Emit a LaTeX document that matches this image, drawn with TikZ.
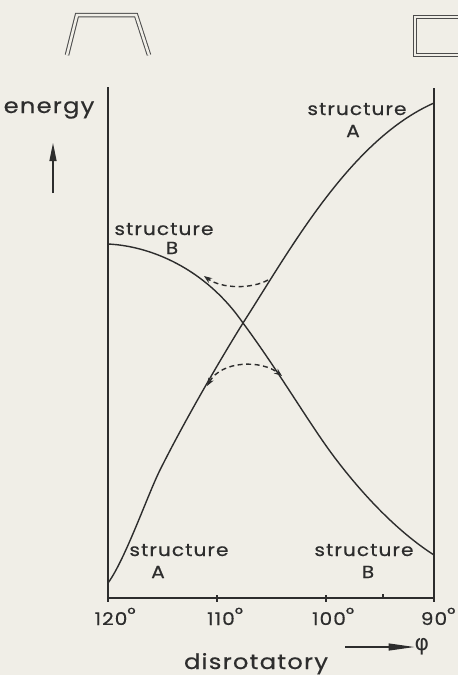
\documentclass[tikz,border=0pt]{standalone}
\usepackage{fontspec}
\newfontfamily\letterfont{Poppins}[FakeStretch=1.15, LetterSpace=6, FakeBold=0.5]
\newfontfamily\greekfont{DejaVu Sans}
\usetikzlibrary{arrows.meta}

\definecolor{paper}{RGB}{240,238,231}
\definecolor{ink}{RGB}{45,45,45}

\tikzset{
  lbl/.style={font=\letterfont\fontsize{17.5}{17.5}\selectfont, text=ink, inner sep=0pt, anchor=base},
  biglbl/.style={lbl, font=\letterfont\fontsize{21}{21}\selectfont},
  frame/.style={ink, line width=1.3pt},
  curve/.style={ink, line width=1.4pt},
  hop/.style={ink, line width=1.4pt, dash pattern=on 5pt off 3.5pt},
  icon/.style={ink!85, line width=1pt, double=paper, double distance=2.5pt},
  tip/.style={-{Stealth[length=8pt, width=6pt]}},
}

\begin{document}
\begin{tikzpicture}[x=1pt, y=-1pt]
    % Two crossing energy curves along the disrotatory path
    % Coordinates are page pixels, y counted downwards
    \def\xl{108}   % 120 deg
    \def\xr{434}   % 90 deg
    \def\yt{87}    % top of the frame
    \def\yb{598}   % the angle axis

    \fill[paper] (0,0) rectangle (458,675);
    \useasboundingbox (0,0) rectangle (458,675);

    % sketches of the two structures
    \draw[icon] (67,55) -- (77,15) -- (136,15) -- (149,55);
    \draw[icon] (460,17) -- (415,17) -- (415,55) -- (460,55);

    % frame and angle axis
    \draw[frame] (\xl,\yt) -- (\xl,602);
    \draw[frame] (\xr,\yt+1) -- (\xr,602);
    \draw[frame] (\xl,\yb) -- (\xr,\yb);
    \foreach \tx in {217,326} {
      \draw[frame] (\tx,595) -- (\tx,602);
    }
    \draw[frame] (383,594) -- (383,\yb);

    % angle labels
    \foreach \tx/\dg in {111/120,221/110,329/100,434/90} {
      \node[lbl] (t\dg) at (\tx,625) {\dg\rlap{\raisebox{5pt}{°}}};
    }
    \node[biglbl] (dis) at (256,669) {disrotatory};
    \node[font=\greekfont\fontsize{22}{22}\selectfont, text=ink, inner sep=0pt] (phi) at (422,647) {φ};
    \coordinate (p0) at (345,647);
    \draw[ink, line width=1.2pt, -{Triangle[length=26pt, width=7pt]}] (p0) -- (phi.west);

    % energy axis
    \node[biglbl] (en) at (49,113) {energy};
    \coordinate (e0) at (53,193);
    \coordinate (e1) at (53,143);
    \draw[ink, line width=1.2pt, -{Triangle[length=18pt, width=7pt]}] (e0) -- (e1);

    % structure A rises from left to right
    \draw[curve] (108,583) .. controls (125,560) and (148,494) .. (160,470)
      .. controls (185,420) and (220,360) .. (243,323)
      .. controls (290,250) and (350,140) .. (434,103);
    % structure B falls from left to right
    \draw[curve] (108,244) .. controls (150,246) and (205,268) .. (243,323)
      .. controls (280,373) and (310,425) .. (335,458)
      .. controls (360,491) and (395,530) .. (434,555);

    % avoided crossing
    \coordinate (uA) at (268,280);
    \coordinate (uB) at (204,276);
    \coordinate (lA) at (207,386);
    \coordinate (lB) at (282,376);
    \draw[hop, tip] (uA) .. controls (252,289) and (222,289) .. (uB);
    \draw[hop, {Stealth[length=8pt, width=6pt]}-{Stealth[length=8pt, width=6pt]}] (lA) .. controls (222,360) and (262,360) .. (lB);

    % curve labels
    \node[lbl] (sA1) at (357,115) {structure};
    \node[lbl] (sA1l) at (353,137) {A};
    \node[lbl] (sB1) at (164,235) {structure};
    \node[lbl] (sB1l) at (172,254) {B};
    \node[lbl] (sA2) at (179,556) {structure};
    \node[lbl] (sA2l) at (158,578) {A};
    \node[lbl] (sB2) at (364,556) {structure};
    \node[lbl] (sB2l) at (368,578) {B};

\end{tikzpicture}
\end{document}
